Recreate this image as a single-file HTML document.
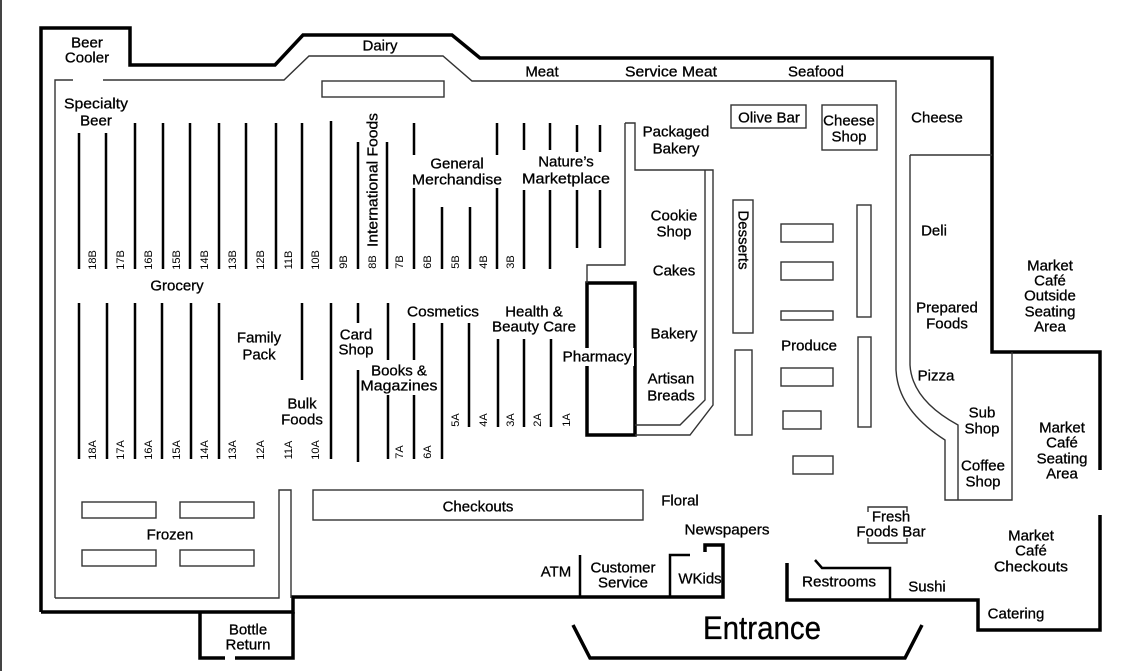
<!DOCTYPE html>
<html><head><style>html,body{margin:0;padding:0;background:#fff}svg{display:block}
text{font-family:"Liberation Sans",sans-serif;font-size:15px;fill:#000;text-anchor:middle;dominant-baseline:central;stroke:#000;stroke-width:0.3}
.s{font-size:11px;stroke-width:0}</style></head><body>
<svg width="1127" height="671" viewBox="0 0 1127 671" xmlns="http://www.w3.org/2000/svg">
<rect x="0" y="0" width="2" height="671" fill="#444"/>
<g fill="none" stroke="#000" stroke-width="3.5">
<path d="M41,612 L41,28 L130,28 L130,65 L275,65 L303,35 L452,35 L480,58 L992,58 L992,352 L1100,352 L1100,470"/>
<path d="M1100,515 L1100,630 L978,630 L978,600 L787,600 L787,563"/>
<path d="M41,612 L293,612 L293,597 L723,597 L723,545 L705,545 L705,552"/>
<path d="M200,612 L200,658 L225,658 M235,658 L293,658 L293,612"/>
<path d="M573,625 L590,658 L905,658 L922,625"/>
<rect x="587" y="283" width="48" height="152"/>
</g>
<g fill="none" stroke="#000" stroke-width="2.5">
<path d="M580,555 L580,597 M670,597 L670,555 L690,555"/>
<path d="M890,600 L890,568 L822,568 L815,560"/>
</g>
<g fill="none" stroke="#333" stroke-width="1.4">
<path d="M55,598 L55,80 L73,80 M103,80 L284,80 L309,56 L443,56 L472,81 L896,81 L896,370 Q898,410 945,440 L945,500 L1012,500 L1012,352"/>
<path d="M910,155 L992,155 M910,155 L910,365 Q912,400 958,425 L958,500"/>
<path d="M55,598 L279,598 L279,490 L291,490 L291,598"/>
<path d="M625,123 L625,265 L587,265 L587,283 M625,123 L635,123 L635,170 L713,170 L713,405 L690,435 L635,435 M705,170 L705,400 L680,425 L635,425"/>
<rect x="322" y="81" width="122" height="16"/>
<rect x="313" y="490" width="330" height="30"/>
<rect x="82" y="502" width="74" height="16"/><rect x="180" y="502" width="74" height="16"/>
<rect x="82" y="550" width="74" height="16"/><rect x="180" y="550" width="74" height="16"/>
<rect x="731" y="105" width="75" height="23"/><rect x="822" y="105" width="55" height="45"/>
<rect x="733" y="200" width="20" height="133"/>
<rect x="781" y="224" width="52" height="18"/><rect x="781" y="262" width="52" height="18"/>
<rect x="781" y="311" width="52" height="9"/><rect x="857" y="205" width="14" height="112"/>
<rect x="735" y="350" width="17" height="85"/><rect x="781" y="368" width="52" height="18"/>
<rect x="783" y="411" width="38" height="18"/><rect x="793" y="456" width="40" height="18"/>
<rect x="858" y="337" width="13" height="90"/>
<path d="M868,512 L868,507 L907,507 L907,512 M868,538 L868,543 L907,543 L907,538"/>
</g>
<g stroke="#000" stroke-width="2.5">
<path d="M79,133V269M106,133V269M135,123V269M163,123V269M190,123V269M219,123V269M246,123V269M276,123V269M302,123V269M331,121V269M358,142V269M387,142V269M414,123V155M414,188V269M442,207V269M470,207V269M497,123V155M497,188V269M524,123V150M524,190V269M550,123V150M550,190V269M577,125V152M577,190V248M600,125V152M600,190V248"/>
<path d="M79,303V459M107,303V459M135,303V459M162,303V459M191,303V459M219,303V459M302,303V380M331,303V459M358,303V323M358,370V462M388,303V360M388,395V459M414,323V360M414,395V459M442,323V459M469,323V427M498,339V427M524,339V427M551,339V427"/>
</g>
<g>
<text class="s" transform="translate(93,260) rotate(-90)">18B</text><text class="s" transform="translate(121,260) rotate(-90)">17B</text><text class="s" transform="translate(149,260) rotate(-90)">16B</text><text class="s" transform="translate(177,260) rotate(-90)">15B</text><text class="s" transform="translate(205,260) rotate(-90)">14B</text><text class="s" transform="translate(233,260) rotate(-90)">13B</text><text class="s" transform="translate(261,260) rotate(-90)">12B</text><text class="s" transform="translate(289,260) rotate(-90)">11B</text><text class="s" transform="translate(316,260) rotate(-90)">10B</text><text class="s" transform="translate(344,262) rotate(-90)">9B</text><text class="s" transform="translate(373,262) rotate(-90)">8B</text><text class="s" transform="translate(400,262) rotate(-90)">7B</text><text class="s" transform="translate(428,262) rotate(-90)">6B</text><text class="s" transform="translate(456,262) rotate(-90)">5B</text><text class="s" transform="translate(484,262) rotate(-90)">4B</text><text class="s" transform="translate(511,262) rotate(-90)">3B</text>
<text class="s" transform="translate(93,450) rotate(-90)">18A</text><text class="s" transform="translate(121,450) rotate(-90)">17A</text><text class="s" transform="translate(149,450) rotate(-90)">16A</text><text class="s" transform="translate(177,450) rotate(-90)">15A</text><text class="s" transform="translate(205,450) rotate(-90)">14A</text><text class="s" transform="translate(233,450) rotate(-90)">13A</text><text class="s" transform="translate(261,450) rotate(-90)">12A</text><text class="s" transform="translate(289,450) rotate(-90)">11A</text><text class="s" transform="translate(316,450) rotate(-90)">10A</text><text class="s" transform="translate(400,452) rotate(-90)">7A</text><text class="s" transform="translate(428,452) rotate(-90)">6A</text><text class="s" transform="translate(456,420) rotate(-90)">5A</text><text class="s" transform="translate(484,420) rotate(-90)">4A</text><text class="s" transform="translate(511,420) rotate(-90)">3A</text><text class="s" transform="translate(538,420) rotate(-90)">2A</text><text class="s" transform="translate(567,420) rotate(-90)">1A</text>
</g>
<text x="87" y="43">Beer</text><text x="87" y="58">Cooler</text>
<text x="380" y="46">Dairy</text><text x="542" y="72">Meat</text><text x="671" y="72" textLength="92" lengthAdjust="spacingAndGlyphs">Service Meat</text><text x="816" y="72">Seafood</text>
<text x="96" y="104" textLength="64" lengthAdjust="spacingAndGlyphs">Specialty</text><text x="96" y="121">Beer</text>
<text transform="translate(373,180) rotate(-90)" textLength="134" lengthAdjust="spacingAndGlyphs">International Foods</text>
<text x="457" y="164">General</text><text x="457" y="180" textLength="90" lengthAdjust="spacingAndGlyphs">Merchandise</text>
<text x="566" y="162">Nature’s</text><text x="566" y="179" textLength="88" lengthAdjust="spacingAndGlyphs">Marketplace</text>
<text x="676" y="132">Packaged</text><text x="676" y="149">Bakery</text>
<text x="769" y="118">Olive Bar</text><text x="849" y="121">Cheese</text><text x="849" y="137">Shop</text>
<text x="937" y="118">Cheese</text>
<text x="674" y="216">Cookie</text><text x="674" y="232">Shop</text><text x="674" y="271">Cakes</text>
<text transform="translate(743,240) rotate(90)">Desserts</text>
<text x="934" y="231">Deli</text>
<text x="1050" y="266">Market</text><text x="1050" y="281">Café</text><text x="1050" y="296">Outside</text><text x="1050" y="312">Seating</text><text x="1050" y="327">Area</text>
<text x="177" y="286">Grocery</text>
<text x="259" y="338">Family</text><text x="259" y="355">Pack</text>
<text x="356" y="335">Card</text><text x="356" y="350">Shop</text>
<text x="443" y="312" textLength="72" lengthAdjust="spacingAndGlyphs">Cosmetics</text>
<text x="534" y="312">Health &amp;</text><text x="534" y="327" textLength="84" lengthAdjust="spacingAndGlyphs">Beauty Care</text>
<rect x="562" y="348" width="72" height="18" fill="#fff"/>
<text x="597" y="357" textLength="69" lengthAdjust="spacingAndGlyphs">Pharmacy</text><text x="674" y="334">Bakery</text>
<text x="947" y="308">Prepared</text><text x="947" y="324">Foods</text>
<text x="809" y="346">Produce</text><text x="936" y="376">Pizza</text>
<text x="399" y="371">Books &amp;</text><text x="399" y="386" textLength="77" lengthAdjust="spacingAndGlyphs">Magazines</text>
<text x="302" y="404">Bulk</text><text x="302" y="420">Foods</text>
<text x="671" y="379">Artisan</text><text x="671" y="396">Breads</text>
<text x="982" y="413">Sub</text><text x="982" y="429">Shop</text>
<text x="1062" y="428">Market</text><text x="1062" y="443">Café</text><text x="1062" y="459">Seating</text><text x="1062" y="474">Area</text>
<text x="983" y="466">Coffee</text><text x="983" y="482">Shop</text>
<text x="478" y="507">Checkouts</text><text x="680" y="501">Floral</text><text x="170" y="535">Frozen</text>
<text x="727" y="530" textLength="85" lengthAdjust="spacingAndGlyphs">Newspapers</text>
<text x="891" y="517">Fresh</text><text x="891" y="532">Foods Bar</text>
<text x="1031" y="536">Market</text><text x="1031" y="551">Café</text><text x="1031" y="567" textLength="74" lengthAdjust="spacingAndGlyphs">Checkouts</text>
<text x="556" y="572">ATM</text><text x="623" y="568">Customer</text><text x="623" y="583">Service</text>
<text x="700" y="579">WKids</text><text x="839" y="582" textLength="74" lengthAdjust="spacingAndGlyphs">Restrooms</text><text x="927" y="587">Sushi</text>
<text x="1016" y="614">Catering</text>
<text x="762" y="628" style="font-size:32px" textLength="118" lengthAdjust="spacingAndGlyphs">Entrance</text>
<text x="248" y="630">Bottle</text><text x="248" y="645">Return</text>
</svg></body></html>
